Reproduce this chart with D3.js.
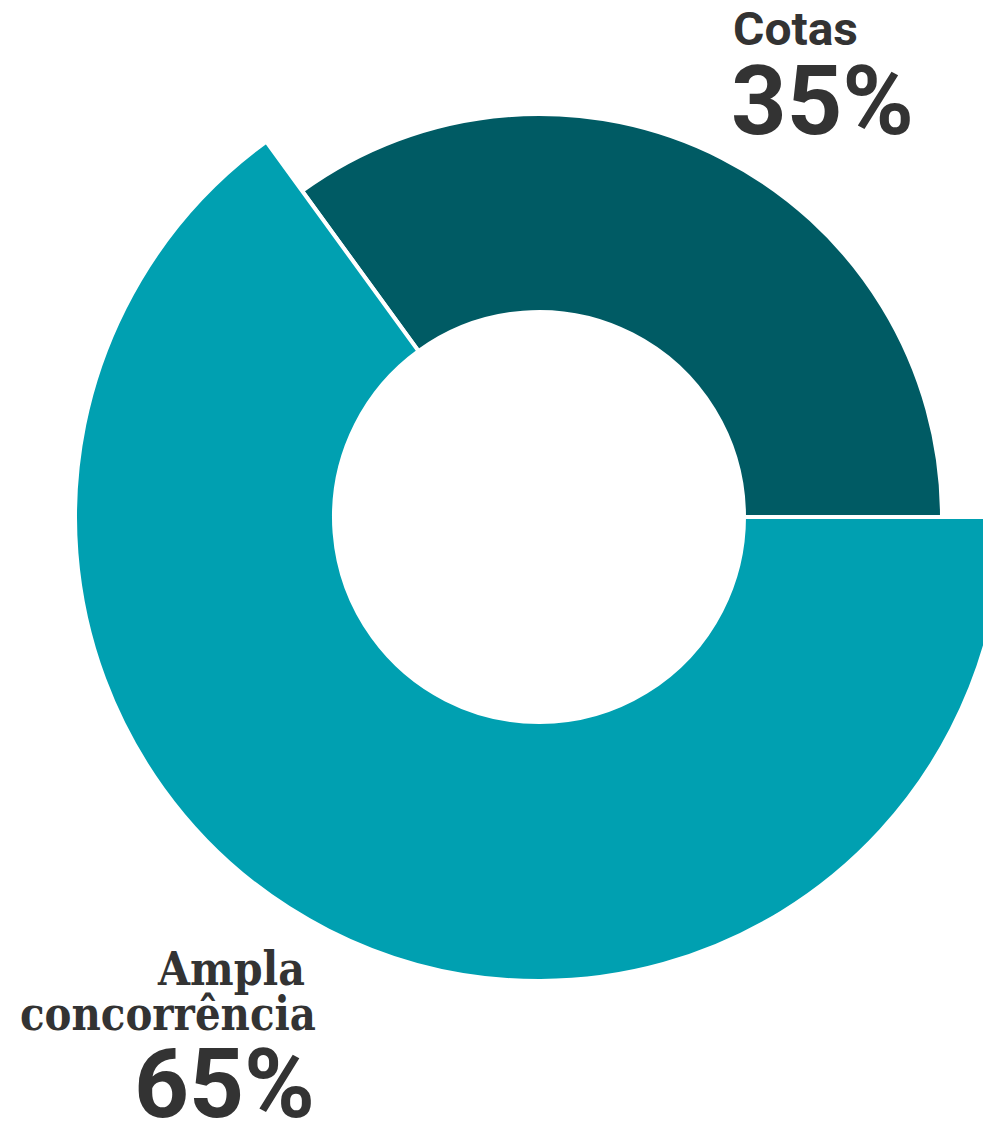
<!DOCTYPE html>
<html lang="pt">
<head>
	<meta charset="UTF-8">
	<title>Cotas x Ampla concorrência</title>
	<script type="text/javascript" src="https://d3js.org/d3.v7.min.js"></script>
	<style>
		html, body { margin: 0; padding: 0; background: #fff; }
		svg { display: block; }
		.pct { font-family: Roboto, "Noto Sans", sans-serif; font-weight: 700; fill: #333; }
		.name-sans { font-family: Roboto, "Noto Sans", sans-serif; font-weight: 700; fill: #333; }
		.name-slab { font-family: "DejaVu Serif", serif; font-weight: 700; fill: #333; }
	</style>
</head>
<body>
	<svg></svg>

	<script type="text/javascript">
		var categories = ["Cotas", "Ampla concorrência"];
		var values = [35, 65];
		var valueLabels = ["35%", "65%"];

		var width = 983;
		var height = 1126;
		var cx = 539, cy = 517;
		var innerR = 205;
		// Ampla slice is drawn larger than Cotas
		var outerR = {"Cotas": 403, "Ampla concorrência": 464};
		var colors = d3.scaleOrdinal().domain(categories).range(["#005b64", "#00a0b1"]);

		var svg = d3.select("svg").attr("width", width).attr("height", height);

		var data = categories.map(function(c, i) { return {name: c, value: values[i], label: valueLabels[i]}; });

		var pie = d3.pie()
			.sort(null)
			.value(function(d) { return d.value; })
			.startAngle(-0.2 * Math.PI)
			.endAngle(1.8 * Math.PI);

		var arc = d3.arc()
			.innerRadius(innerR)
			.outerRadius(function(d) { return outerR[d.data.name]; });

		var g = svg.append("g").attr("transform", "translate(" + cx + "," + cy + ")");

		g.selectAll("path")
			.data(pie(data))
			.enter().append("path")
			.attr("d", arc)
			.attr("fill", function(d) { return colors(d.data.name); })
			.attr("stroke", "#fff")
			.attr("stroke-width", 4)
			.attr("stroke-linejoin", "miter");

		// labels
		var cotas = svg.append("g");
		cotas.append("text").attr("class", "name-sans")
			.attr("x", 733).attr("y", 45)
			.attr("font-size", 47)
			.attr("textLength", 125)
			.attr("lengthAdjust", "spacingAndGlyphs")
			.text(categories[0]);
		cotas.append("text").attr("class", "pct")
			.attr("x", 731).attr("y", 134)
			.attr("font-size", 97)
			.text(valueLabels[0]);

		var ampla = svg.append("g");
		var words = categories[1].split(" ");
		ampla.append("text").attr("class", "name-slab")
			.attr("x", 158).attr("y", 985)
			.attr("font-size", 47)
			.attr("textLength", 147)
			.attr("lengthAdjust", "spacingAndGlyphs")
			.text(words[0]);
		ampla.append("text").attr("class", "name-slab")
			.attr("x", 20).attr("y", 1030)
			.attr("font-size", 47)
			.attr("textLength", 296)
			.attr("lengthAdjust", "spacingAndGlyphs")
			.text(words[1]);
		ampla.append("text").attr("class", "pct")
			.attr("x", 315).attr("y", 1117)
			.attr("text-anchor", "end")
			.attr("font-size", 96)
			.text(valueLabels[1]);
	</script>
</body>
</html>
